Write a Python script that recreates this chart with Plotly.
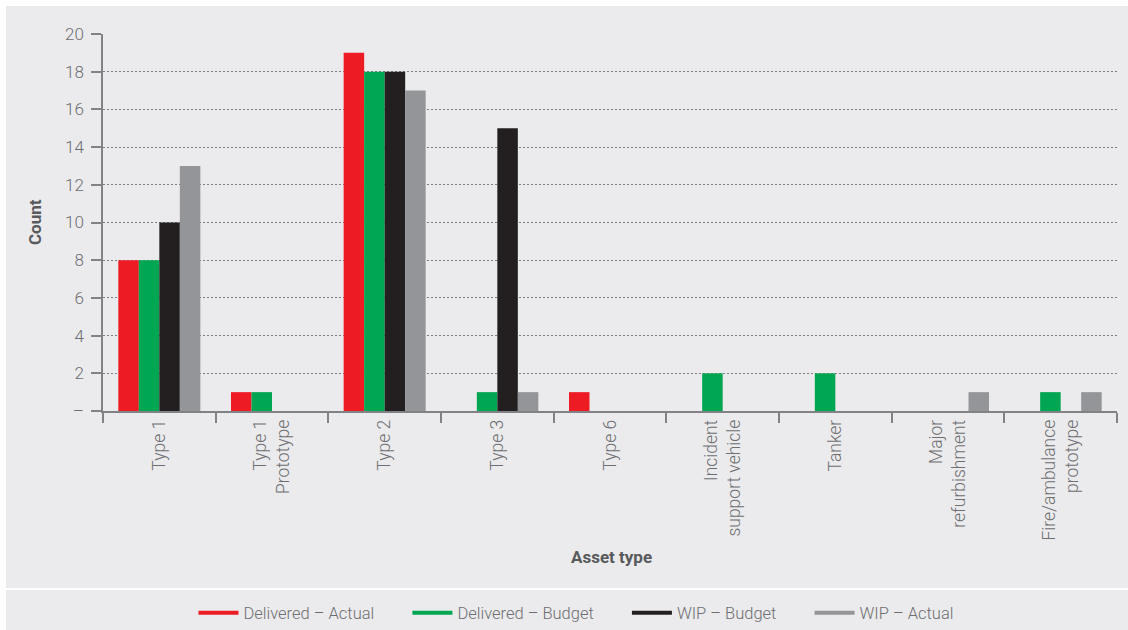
import plotly.graph_objects as go

# Asset categories (line breaks give the two-line tick labels)
categories = [
    "Type 1",
    "Type 1<br>Prototype",
    "Type 2",
    "Type 3",
    "Type 6",
    "Incident<br>support vehicle",
    "Tanker",
    "Major<br>refurbishment",
    "Fire/ambulance<br>prototype",
]

delivered_actual = [8, 1, 19, 0, 1, 0, 0, 0, 0]
delivered_budget = [8, 1, 18, 1, 0, 2, 2, 0, 1]
wip_budget = [10, 0, 18, 15, 0, 0, 0, 0, 0]
wip_actual = [13, 0, 17, 1, 0, 0, 0, 1, 1]

series_names = ["Delivered – Actual", "Delivered – Budget", "WIP – Budget", "WIP – Actual"]
series_colors = ["#ed1c24", "#00a651", "#231f20", "#939598"]
series_values = [delivered_actual, delivered_budget, wip_budget, wip_actual]

y_tickvals = [0, 2, 4, 6, 8, 10, 12, 14, 16, 18, 20]
y_ticktext = ["–", "2", "4", "6", "8", "10", "12", "14", "16", "18", "20"]

BG = "#ebebed"
AXIS = "#808285"
TEXT = "#6d6e71"
TITLE = "#58595b"
FONT = "Roboto, Arial, sans-serif"

# plot-area geometry in pixels
W, H = 1128, 630
L, R, T, B = 103, 11, 34, 219
PW, PH = W - L - R, H - T - B


def px_x(x):
    return (x - L) / PW


def px_y(y):
    return (H - B - y) / PH


# extra room after each legend label except the last
LEGEND_PAD = "\u00a0" * 7

fig = go.Figure()

for name, color, vals in zip(series_names, series_colors, series_values):
    fig.add_trace(go.Bar(
        x=categories, y=vals, name=name, marker=dict(color=color, line=dict(width=0)),
        showlegend=False, legendgroup=name,
    ))

# Legend entries shown as thick line swatches
for i, (name, color) in enumerate(zip(series_names, series_colors)):
    label = name + (LEGEND_PAD if i < len(series_names) - 1 else "")
    fig.add_trace(go.Scatter(
        x=[None], y=[None], mode="lines", name=label, legendgroup=name,
        line=dict(color=color, width=4),
    ))

fig.update_layout(
    width=W, height=H,
    margin=dict(l=L, r=R, t=T, b=B, autoexpand=False),
    paper_bgcolor=BG, plot_bgcolor=BG,
    font=dict(family=FONT, color=TEXT, size=16),
    barmode="group", bargap=0.272, bargroupgap=0,
    showlegend=True,
    legend=dict(
        orientation="h", x=px_x(576), xanchor="center", y=px_y(613), yanchor="middle",
        font=dict(size=16.5, color=TEXT, weight=300), bgcolor="rgba(0,0,0,0)",
        itemwidth=40,
    ),
    shapes=[
        # white frame strips on top and left
        dict(type="rect", xref="paper", yref="paper", x0=-0.2, x1=1.1, y0=px_y(6), y1=px_y(-20),
             fillcolor="white", line=dict(width=0), layer="below"),
        dict(type="rect", xref="paper", yref="paper", x0=-0.2, x1=px_x(6), y0=px_y(650), y1=px_y(-20),
             fillcolor="white", line=dict(width=0), layer="below"),
        # divider above the legend band
        dict(type="line", xref="paper", yref="paper", x0=px_x(6), x1=1.1,
             y0=px_y(589), y1=px_y(589),
             line=dict(color="white", width=2), layer="below"),
    ],
    annotations=[
        dict(text="<b>Asset type</b>", xref="paper", yref="paper", x=px_x(611), y=px_y(557),
             showarrow=False, xanchor="center", yanchor="middle",
             font=dict(size=17, color=TITLE)),
        dict(text="<b>Count</b>", xref="paper", yref="paper", x=px_x(35), y=px_y(222),
             showarrow=False, xanchor="center", yanchor="middle", textangle=-90,
             font=dict(size=17, color=TITLE)),
    ],
)

fig.update_xaxes(
    automargin=False,
    showline=True, linecolor=AXIS, linewidth=1.5,
    ticks="outside", tickson="boundaries", ticklen=10, tickcolor=AXIS, tickwidth=1.5,
    tickangle=-90, tickfont=dict(size=17.5, color=TEXT, weight=300),
    showgrid=False, zeroline=False,
)

fig.update_yaxes(
    automargin=False,
    range=[0, 20], tickvals=y_tickvals, ticktext=y_ticktext,
    showline=True, linecolor=AXIS, linewidth=1.5,
    ticks="outside", ticklen=10, tickcolor=AXIS, tickwidth=1.5,
    tickfont=dict(size=17, color=TEXT, weight=300), ticklabelstandoff=4,
    showgrid=True, gridcolor="#7d7d80", gridwidth=1.2, griddash="1.5px,2.5px",
    zeroline=False,
)

fig.write_html("out.html")
